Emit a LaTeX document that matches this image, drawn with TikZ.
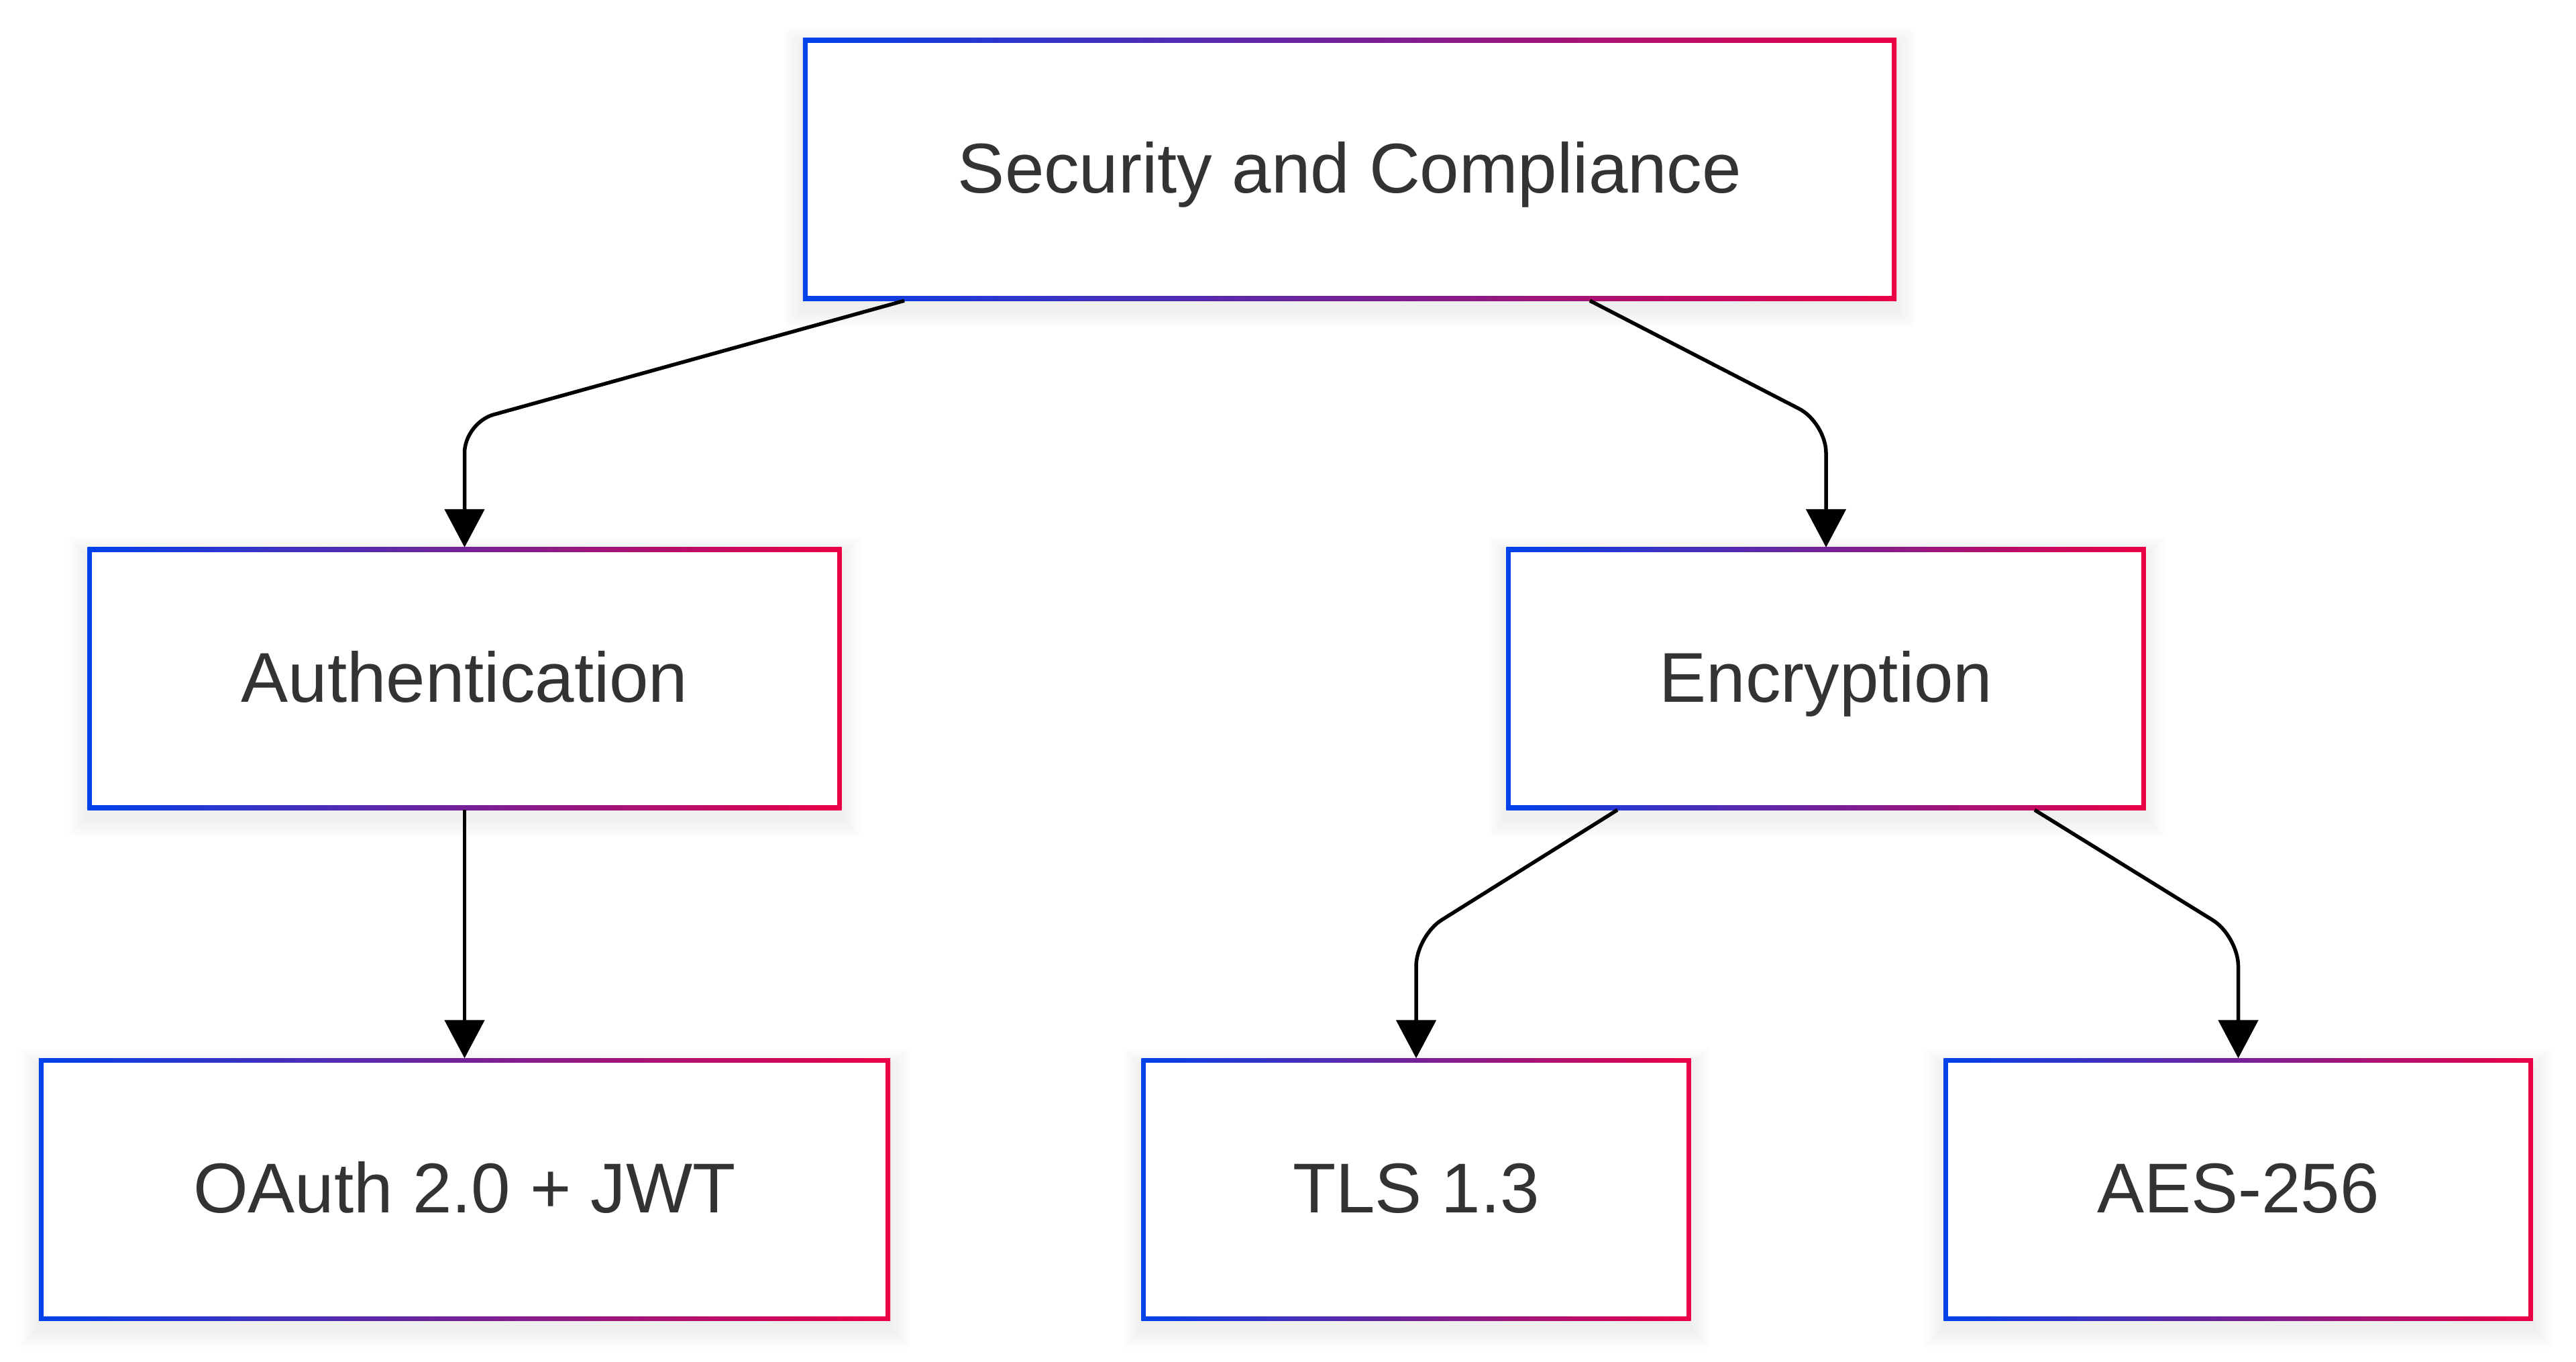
\documentclass[tikz,border=0pt]{standalone}
\usepackage{fontspec}
\setmainfont{Liberation Sans}
\usepackage{tikz}
\usetikzlibrary{arrows.meta, positioning, backgrounds}

\definecolor{gradblue}{RGB}{0,66,235}
\definecolor{gradred}{RGB}{235,0,70}
\definecolor{txtgray}{HTML}{333333}

\tikzset{
    blk/.style={
        rectangle,
        inner sep=0pt,
        minimum height=3.9cm,
        text=txtgray,
        font=\fontsize{29.9}{36}\selectfont,
        text height=0.945cm,
        text depth=0.252cm
    },
    link/.style={
        -{Triangle[length=0.57cm, width=0.59cm]},
        line width=0.055cm,
        rounded corners=0.45cm
    }
}

\begin{document}
\begin{tikzpicture}
    \useasboundingbox (0,0) rectangle (38.4,20.3);

    \node[blk, minimum width=16.29cm] (root) at (20.12,17.775) {Security and Compliance};
    \node[blk, minimum width=11.23cm] (auth) at (6.925,10.185) {Authentication};
    \node[blk, minimum width=9.52cm] (enc) at (27.22,10.185) {Encryption};
    \node[blk, minimum width=12.68cm] (oauth) at (6.925,2.57) {OAuth 2.0 + JWT};
    \node[blk, minimum width=8.18cm] (tls) at (21.11,2.57) {TLS 1.3};
    \node[blk, minimum width=8.77cm] (aes) at (33.365,2.57) {AES-256};

    % shadow + gradient frame behind every box
    \begin{scope}[on background layer]
        \foreach \nm in {root,auth,enc,oauth,tls,aes} {
            \foreach \k in {1,...,8}
                \fill[black, opacity=0.009]
                    ([shift={(-\k*0.035cm,-0.12cm-\k*0.035cm)}]\nm.south west)
                    rectangle ([shift={(\k*0.035cm,-0.12cm+\k*0.035cm)}]\nm.north east);
            \shade[left color=gradblue, right color=gradred]
                (\nm.south west) rectangle (\nm.north east);
            \fill[white]
                ([shift={(0.07cm,0.07cm)}]\nm.south west)
                rectangle ([shift={(-0.07cm,-0.07cm)}]\nm.north east);
        }
    \end{scope}

    \draw[link] ([xshift=-6.64cm]root.south) -- (auth.north |- 0,14.0) -- (auth.north);
    \draw[link] ([xshift=3.58cm]root.south) -- (enc.north |- 0,14.0) -- (enc.north);
    \draw[link] (auth.south) -- (oauth.north);
    \draw[link] ([xshift=-3.11cm]enc.south) -- (tls.north |- 0,6.35) -- (tls.north);
    \draw[link] ([xshift=3.11cm]enc.south) -- (aes.north |- 0,6.35) -- (aes.north);
\end{tikzpicture}
\end{document}
